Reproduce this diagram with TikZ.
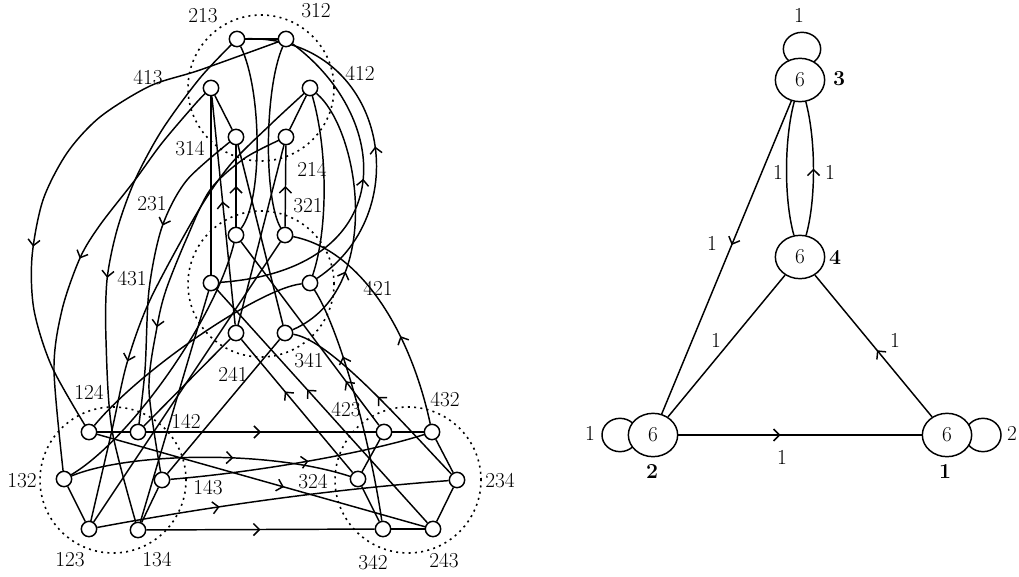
\documentclass[tikz,border=0pt]{standalone}
\usepackage{fontspec}
\usetikzlibrary{arrows.meta,decorations.markings,shapes.geometric,backgrounds,calc}
\begin{document}
\begin{tikzpicture}[x=0.75pt,y=-0.75pt,
  every node/.style={font=\fontsize{16}{19}\selectfont},
  vtx/.style={circle,draw,fill=white,line width=1.1pt,minimum size=11.5pt,inner sep=0pt},
  bignode/.style={ellipse,draw,fill=white,line width=1.1pt,minimum width=37pt,minimum height=32.5pt,inner sep=0pt},
  lbl/.style={inner sep=0pt},
  conn/.style={line width=1.1pt},
  ring/.style={line width=1.2pt,dash pattern=on 1.5pt off 3.2pt},
  arr/.style={postaction={decorate},decoration={markings,mark=at position #1 with {\arrow{Straight Barb[length=4.5pt,width=9pt]}}}},
]
\useasboundingbox (0,0) rectangle (1019,577);
% ---- left graph nodes
\node[vtx] (n213) at (237,39) {};
\node[vtx] (n312) at (286,39) {};
\node[vtx] (n413) at (211,88) {};
\node[vtx] (n412) at (310,88) {};
\node[vtx] (n314) at (236,137) {};
\node[vtx] (n214) at (286,137) {};
\node[vtx] (n231) at (236,235) {};
\node[vtx] (n321) at (285,235) {};
\node[vtx] (n431) at (211,283) {};
\node[vtx] (n421) at (310,283) {};
\node[vtx] (n241) at (236,333) {};
\node[vtx] (n341) at (285,333) {};
\node[vtx] (n124) at (89,432) {};
\node[vtx] (n142) at (138,432) {};
\node[vtx] (n132) at (64,479) {};
\node[vtx] (n143) at (162,480) {};
\node[vtx] (n123) at (89,529) {};
\node[vtx] (n134) at (138,530) {};
\node[vtx] (n423) at (384,432) {};
\node[vtx] (n432) at (432,432) {};
\node[vtx] (n324) at (358,479) {};
\node[vtx] (n234) at (457,480) {};
\node[vtx] (n342) at (383,529) {};
\node[vtx] (n243) at (433,529) {};
% ---- labels
\node[lbl] (l213) at (203,16) {213};
\node[lbl] (l312) at (316,11) {312};
\node[lbl] (l413) at (148,78) {413};
\node[lbl] (l412) at (360,73) {412};
\node[lbl] (l314) at (190,149) {314};
\node[lbl] (l214) at (312,169) {214};
\node[lbl] (l231) at (152,204) {231};
\node[lbl] (l321) at (308,206) {321};
\node[lbl] (l431) at (132,279) {431};
\node[lbl] (l421) at (378,288) {421};
\node[lbl] (l241) at (233,374) {241};
\node[lbl] (l341) at (309,361) {341};
\node[lbl] (l124) at (89,392) {124};
\node[lbl] (l142) at (186,421) {142};
\node[lbl] (l132) at (22,481) {132};
\node[lbl] (l143) at (208,488) {143};
\node[lbl] (l123) at (70,560) {123};
\node[lbl] (l134) at (157,560) {134};
\node[lbl] (l423) at (346,410) {423};
\node[lbl] (l432) at (445,400) {432};
\node[lbl] (l324) at (313,482) {324};
\node[lbl] (l234) at (500,481) {234};
\node[lbl] (l342) at (373,563) {342};
\node[lbl] (l243) at (444,561) {243};
% ---- right graph
\node[bignode] (b3) at (800,80) {6};
\node[bignode] (b4) at (800,257) {6};
\node[bignode] (b2) at (653,435) {6};
\node[bignode] (b1) at (947,435) {6};
\node[lbl] (k3) at (839,79) {\bfseries 3};
\node[lbl] (k4) at (835,257) {\bfseries 4};
\node[lbl] (k2) at (652,471) {\bfseries 2};
\node[lbl] (k1) at (945,471) {\bfseries 1};
\node[lbl] (e33) at (799,15) {1};
\node[lbl] (e22) at (590,433) {1};
\node[lbl] (e11) at (1012,433) {2};
\node[lbl] (e34a) at (778,172) {1};
\node[lbl] (e34b) at (830,172) {1};
\node[lbl] (e32) at (712,243) {1};
\node[lbl] (e42) at (716,340) {1};
\node[lbl] (e14) at (895,340) {1};
\node[lbl] (e21) at (782,457) {1};

\begin{pgfonlayer}{background}
% dotted clusters
\draw[ring] (261,88) circle[radius=54.75pt];
\draw[ring] (261,284) circle[radius=54.75pt];
\draw[ring] (113,480) circle[radius=54.75pt];
\draw[ring] (408,480) circle[radius=54.75pt];
% top internal
\draw[conn] (n213) -- (n312);
\draw[conn] (n413) -- (n314);
\draw[conn] (n412) -- (n214);
% top - middle (tau)
\draw[conn] (n213) .. controls (262,90) and (263,200) .. (n231);
\draw[conn] (n312) .. controls (264,90) and (264,200) .. (n321);
\draw[conn] (n413) -- (n431);
\draw[conn] (n412) .. controls (328,150) and (328,230) .. (n421);
\draw[conn] (n314) -- (n341);
\draw[conn] (n214) -- (n241);
% middle -> top
\draw[conn,arr=0.5] (n231) -- (n314);
\draw[conn,arr=0.5] (n321) -- (n214);
\draw[conn,arr=0.54] (n241) -- (n413);
\draw[conn,arr=0.3] (n341) .. controls (385,290) and (360,130) .. (n412);
\draw[conn,arr=0.45] (n421) .. controls (420,210) and (385,35) .. (n213);
\draw[conn,arr=0.55] (n431) .. controls (400,270) and (395,120) .. (n312);
% middle - bottom left (sigma)
\draw[conn] (n132) .. controls (130,440) and (215,320) .. (n231);
\draw[conn] (n123) -- (n321);
\draw[conn] (n134) -- (n431);
\draw[conn] (n421) .. controls (260,288) and (140,370) .. (n124);
\draw[conn] (n142) -- (n241);
\draw[conn] (n143) -- (n341);
% top -> bottom left
\draw[conn,arr=0.64] plot[smooth] coordinates {(n312.center) (200,70) (150,86) (100,117) (67,153) (43,200) (32,257) (34,310) (52,367) (n124.center)};
\draw[conn,arr=0.49] plot[smooth] coordinates {(n413.center) (197,102) (162,143) (135,180) (100,225) (80,258) (62,310) (54,370) (n132.center)};
\draw[conn,arr=0.52] plot[smooth] coordinates {(n213.center) (200,78) (162,130) (135,180) (117,230) (107,280) (106,340) (112,430) (n134.center)};
\draw[conn,arr=0.36] plot[smooth] coordinates {(n314.center) (187,180) (162,227) (149,290) (145,370) (n142.center)};
\draw[conn,arr=0.61] plot[smooth] coordinates {(n214.center) (245,158) (210,190) (186,240) (166,290) (157,327) (149,390) (n143.center)};
\draw[conn,arr=0.66] plot[smooth] coordinates {(n412.center) (270,125) (230,165) (197,213) (150,300) (127,363) (112,430) (n123.center)};
% bottom left -> bottom right
\draw[conn,arr=0.5] (n142) -- (n423);
\draw[conn,arr=0.5] (n134) -- (n342);
\draw[conn,arr=0.57] (n124) -- (n243);
\draw[conn,arr=0.58] (n132) .. controls (130,452) and (270,450) .. (n324);
\draw[conn,arr=0.35] (n123) .. controls (212,506) and (334,489) .. (n234);
\draw[conn,arr=0.54] (n143) .. controls (260,472) and (370,452) .. (n432);
% bottom right -> middle
\draw[conn,arr=0.61] (n324) -- (n241);
\draw[conn,arr=0.57] (n243) -- (n431);
\draw[conn,arr=0.24] (n423) -- (n231);
\draw[conn,arr=0.7] (n342) .. controls (370,440) and (340,330) .. (n421);
\draw[conn,arr=0.5] (n234) .. controls (400,420) and (330,340) .. (n341);
\draw[conn,arr=0.38] (n432) .. controls (410,330) and (360,250) .. (n321);
% bottom left internal
\draw[conn] (n124) -- (n142);
\draw[conn] (n132) -- (n123);
\draw[conn] (n143) -- (n134);
% bottom right internal
\draw[conn] (n423) -- (n432);
\draw[conn] (n432) -- (n234);
\draw[conn] (n234) -- (n243);
\draw[conn] (n243) -- (n342);
\draw[conn] (n342) -- (n324);
\draw[conn] (n324) -- (n423);
% ---- right graph edges
\draw[conn] ($(b3.center)+(2,-31)$) ellipse [x radius=14pt, y radius=12.5pt];
\draw[conn] ($(b2.center)+(-33,0)$) ellipse [x radius=13.5pt, y radius=12.5pt];
\draw[conn] ($(b1.center)+(36,0)$) ellipse [x radius=13.5pt, y radius=12.5pt];
\draw[conn,arr=0.46] (b3) -- (b2);
\draw[conn] (b3) .. controls (784,140) and (784,200) .. (b4);
\draw[conn,arr=0.5] (b4) .. controls (816,200) and (816,140) .. (b3);
\draw[conn] (b4) -- (b2);
\draw[conn,arr=0.47] (b1) -- (b4);
\draw[conn,arr=0.42] (b2) -- (b1);
\end{pgfonlayer}
\end{tikzpicture}
\end{document}
